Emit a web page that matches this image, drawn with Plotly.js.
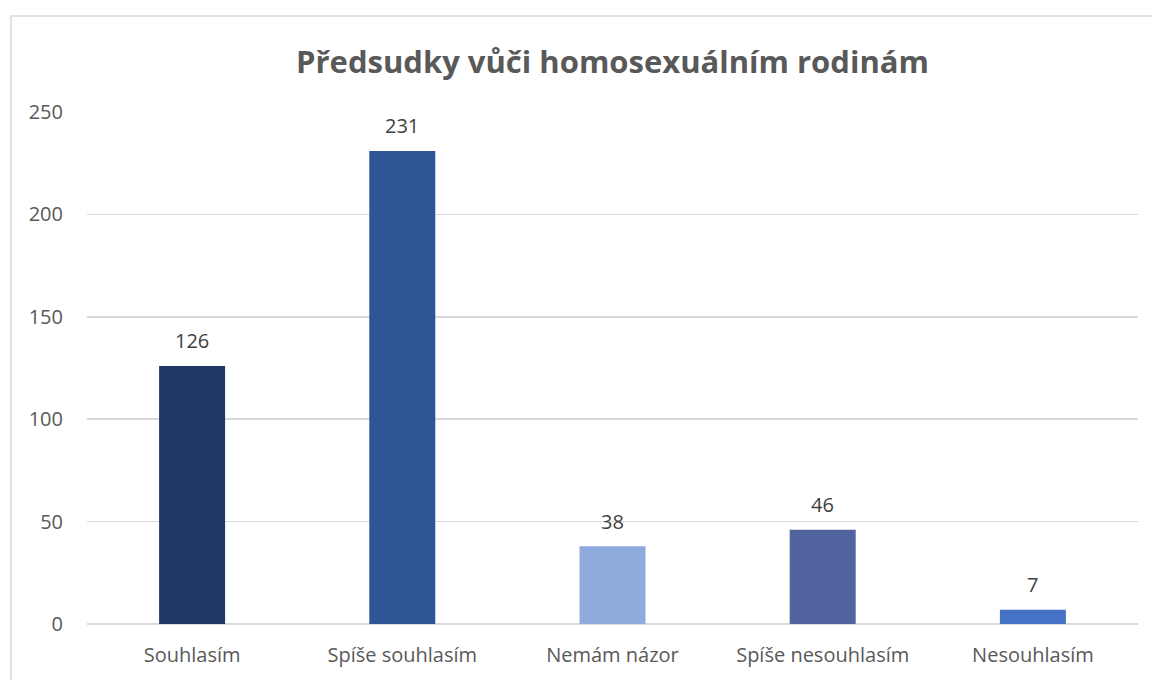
<!DOCTYPE html>
<html>
<head>
<meta charset="utf-8">
<script src="https://cdn.plot.ly/plotly-3.0.1.min.js"></script>
<style>
html,body{margin:0;padding:0;background:#fff;}
#chart{width:1152px;height:680px;}
</style>
</head>
<body>
<div id="chart"></div>
<script>
var categories = ["Souhlasím", "Spíše souhlasím", "Nemám názor", "Spíše nesouhlasím", "Nesouhlasím"];
var values = [126, 231, 38, 46, 7];
var barColors = ["#203864", "#2F5597", "#8FAADC", "#5264A0", "#4472C4"];
var yTicks = [0, 50, 100, 150, 200, 250];
var chartTitle = "Předsudky vůči homosexuálním rodinám";

var FONT = "Open Sans, Noto Sans, sans-serif";

var trace = {
  type: "bar",
  x: categories,
  y: values,
  marker: {color: barColors},
  hoverinfo: "x+y"
};

var annotations = categories.map(function(c, i){
  return {
    x: c, y: values[i], xref: "x", yref: "y",
    text: String(values[i]), showarrow: false,
    yanchor: "middle", yshift: 25,
    font: {family: FONT, size: 20, color: "#404040"}
  };
});

var layout = {
  width: 1152, height: 680,
  margin: {l: 87, r: 14, t: 112, b: 56, pad: 0},
  paper_bgcolor: "#ffffff",
  plot_bgcolor: "#ffffff",
  bargap: 0.686,
  showlegend: false,
  title: {
    text: "<b>" + chartTitle + "</b>",
    x: 0.5, xanchor: "center", xref: "paper",
    y: 1 - 62/680, yanchor: "middle",
    font: {family: FONT, size: 31, color: "#595959"}
  },
  xaxis: {
    type: "category",
    showgrid: false,
    showline: false,
    zeroline: false,
    ticks: "",
    tickfont: {family: FONT, size: 20, color: "#595959"},
    ticklabelstandoff: 17
  },
  yaxis: {
    range: [0, 250],
    tickvals: yTicks,
    showgrid: true,
    gridcolor: "#d9d9d9",
    gridwidth: 1.5,
    zeroline: true,
    zerolinecolor: "#d9d9d9",
    zerolinewidth: 1.5,
    showline: false,
    ticks: "",
    tickfont: {family: FONT, size: 20, color: "#595959"},
    ticklabelstandoff: 23
  },
  annotations: annotations,
  shapes: [{
    type: "rect", xref: "paper", yref: "paper",
    x0: (11 - 87) / 1051, x1: (1170 - 87) / 1051,
    y0: (624 - 700) / 512, y1: (624 - 16) / 512,
    line: {color: "#d9d9d9", width: 1.5},
    fillcolor: "rgba(0,0,0,0)",
    layer: "below"
  }]
};

Plotly.newPlot("chart", [trace], layout, {displayModeBar: false, staticPlot: true});
</script>
</body>
</html>
